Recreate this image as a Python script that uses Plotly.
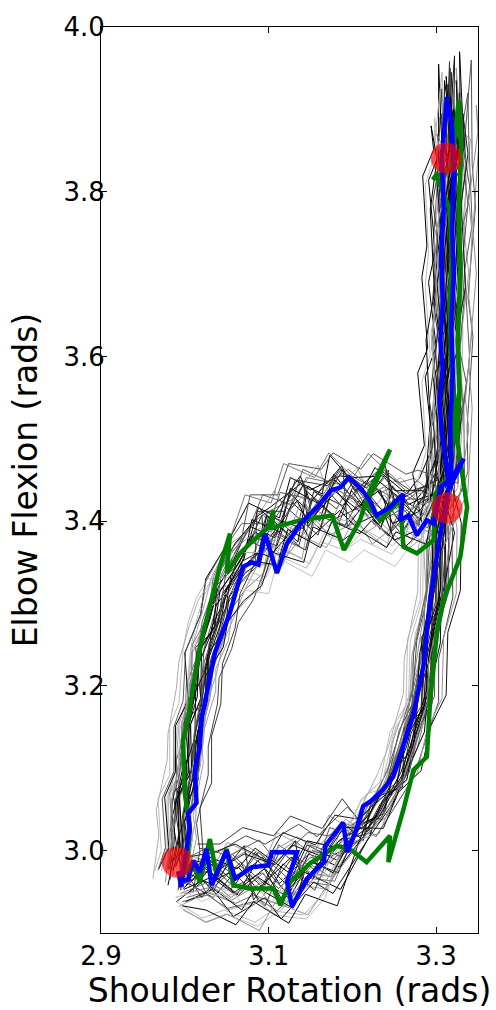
import plotly.graph_objects as go

# Reference loop through joint space (shoulder rotation, elbow flexion), rads.
# Segments: left rise (10), top band (9), column up (9), column down (6),
# right fall (8), bottom band (7)  -> 49 waypoints
PATH_X = [2.992, 2.994, 2.998, 3.003, 3.009, 3.016, 3.024, 3.034, 3.046, 3.062,
          3.082, 3.105, 3.130, 3.155, 3.180, 3.205, 3.230, 3.255, 3.280,
          3.300, 3.306, 3.308, 3.309, 3.310, 3.311, 3.313, 3.315, 3.318,
          3.321, 3.319, 3.317, 3.315, 3.314, 3.312,
          3.305, 3.298, 3.290, 3.280, 3.268, 3.252, 3.232, 3.208,
          3.180, 3.150, 3.120, 3.090, 3.060, 3.030, 3.005]
PATH_Y = [2.970, 3.010, 3.055, 3.100, 3.145, 3.190, 3.235, 3.275, 3.312, 3.345,
          3.372, 3.392, 3.405, 3.418, 3.425, 3.425, 3.420, 3.415, 3.412,
          3.440, 3.500, 3.560, 3.620, 3.680, 3.740, 3.800, 3.860, 3.910,
          3.850, 3.770, 3.690, 3.610, 3.530, 3.450,
          3.380, 3.310, 3.245, 3.185, 3.135, 3.090, 3.052, 3.022,
          2.998, 2.982, 2.972, 2.968, 2.968, 2.968, 2.968]

# Individual trials: deviation from the waypoints, in milliradians
TRIAL_DX = [
    [-10, -7, -9, -6, -8, -5, -7, -4, -6, -3, -5, 3, -4, 6, -2, 4, -6, 5, -3,
     -6, -4, -7, -3, -8, -5, -9, -6, -8, 2, 4, 1, 5, 2, 3,
     4, 6, 3, 7, 5, 8, 4, 6, 5, -2, 4, -3, 2, -5, -7],
    [6, 9, 5, 8, 6, 10, 7, 9, 5, 8, 3, -5, 6, -2, 5, -4, 3, -6, 2,
     5, 8, 4, 9, 6, 10, 7, 8, 5, -4, -2, -5, -1, -3, -2,
     -6, -4, -8, -5, -9, -6, -8, -5, -4, 3, -6, 2, -5, 4, 2],
    [-3, 2, -4, 1, -2, 3, -1, 2, -3, 1, 8, -2, 10, -4, 7, -1, 9, -3, 6,
     -2, 1, -3, 2, -1, 3, -2, 1, -1, 6, 8, 5, 9, 7, 6,
     -2, 1, -3, 2, -4, 1, -3, 2, -7, 5, -8, 6, -4, 7, -3],
    [-15, -12, -14, -11, -13, -10, -12, -14, -16, -18, -12, -4, -10, 0, -8, 2, -6, -2, -9,
     -10, -12, -8, -13, -9, -14, -10, -12, -14, -5, -8, -4, -9, -6, -7,
     -10, -8, -12, -9, -11, -8, -10, -7, -3, 4, -2, 5, -4, 3, -6],
    [4, -2, 5, -1, 3, -3, 4, -2, 5, -1, -3, 5, -2, 7, -4, 6, -1, 8, -2,
     3, 5, 2, 6, 3, 7, 4, 6, 4, -6, -3, -7, -2, -5, -4,
     3, -2, 4, -1, 5, -2, 6, -1, 2, -4, 3, -6, 1, -3, -1],
    [10, 7, 11, 8, 12, 9, 10, 8, 6, 4, 0, -6, 2, -8, 1, -5, 3, -7, 0,
     8, 6, 9, 5, 10, 7, 11, 8, 10, 0, -2, 1, -3, 0, -1,
     7, 9, 6, 10, 7, 9, 6, 8, 8, -3, 9, -2, 7, -4, 5],
    [-6, -9, -5, -10, -7, -11, -8, -6, -9, -7, 4, -8, 5, -10, 3, -6, 4, -9, 2,
     -8, -5, -9, -4, -10, -6, -11, -7, -5, 5, 2, 6, 1, 4, 3,
     -4, -7, -3, -8, -5, -9, -4, -6, -1, -6, 0, -8, 1, -5, -3],
    [-18, -15, -17, -14, -16, -13, -15, -12, -14, -11, -8, 2, -10, 4, -7, 1, -9, 3, -6,
     12, 14, 11, 15, 12, 16, 13, 15, 12, 10, 12, 9, 13, 11, 10,
     -8, -10, -7, -11, -8, -12, -9, -11, -10, -4, -12, -2, -9, -5, -11],
    [2, 5, 1, 6, 3, 7, 2, 5, 3, 6, 9, 1, 11, -1, 8, 2, 10, 0, 7,
     -1, 2, -2, 3, -1, 2, -3, 1, 0, 3, 5, 2, 6, 4, 5,
     1, 4, 0, 5, 2, 6, 1, 4, -5, 2, -7, 3, -6, 1, -4],
    [-12, -10, -13, -9, -11, -8, -10, -7, -9, -6, -2, 6, -4, 8, -1, 5, -3, 7, 0,
     -10, -13, -9, -14, -10, -15, -11, -13, -12, -8, -10, -7, -11, -9, -8,
     -12, -10, -13, -9, -12, -10, -11, -8, -6, 0, -8, 2, -7, -1, -9],
    [8, 12, 7, 13, 9, 14, 10, 12, 8, 10, 12, 4, 14, 2, 11, 5, 13, 3, 10,
     2, -1, 3, -2, 1, -3, 2, -1, 3, -2, 0, -3, 1, -1, -2,
     10, 12, 9, 13, 10, 14, 9, 11, 10, 4, 12, 3, 11, 5, 9],
    [-4, -1, -5, 0, -3, -2, -4, -1, -5, -2, 6, -3, 8, -5, 5, -2, 7, -4, 4,
     6, 4, 7, 3, 8, 5, 9, 6, 8, 1, 3, 0, 4, 2, 1,
     -3, 0, -4, 1, -3, 2, -4, 0, 3, -1, 5, -3, 4, -2, 1],
    [14, 11, 15, 12, 13, 10, 14, 11, 12, 9, 5, 12, 3, 14, 6, 10, 4, 13, 5,
     -5, -8, -4, -9, -6, -10, -7, -9, -8, 7, 9, 6, 10, 8, 7,
     12, 14, 11, 15, 12, 13, 10, 12, 12, 6, 14, 5, 13, 7, 11],
    [0, 3, -1, 4, 1, 5, 0, 3, 1, 4, -7, 2, -9, 4, -6, 1, -8, 3, -5,
     0, -3, 1, -4, 0, -2, 1, -3, -2, -4, -6, -3, -7, -5, -4,
     2, -1, 3, 0, 2, -1, 3, 1, -2, 5, -3, 6, -1, 4, 0],
    [-9, -12, -8, -13, -10, -14, -11, -13, -10, -12, -5, -12, -3, -14, -6, -10, -4, -13, -5,
     4, 7, 3, 8, 5, 9, 6, 8, 7, -6, -4, -7, -3, -5, -6,
     -5, -8, -4, -9, -6, -10, -5, -7, -8, -2, -10, 0, -9, -3, -8],
    [-20, -17, -19, -16, -18, -15, -17, -20, -22, -24, -18, -8, -16, -6, -14, -9, -15, -7, -12,
     15, 17, 14, 18, 15, 19, 16, 18, 16, 14, 16, 13, 17, 15, 14,
     -14, -11, -15, -12, -16, -13, -15, -12, -14, -8, -16, -6, -13, -9, -15],
    [-23, -13, -22, -14, -20, -12, -24, -15, -21, -13, -6, 8, -4, 9, -7, 6, -3, 10, -5,
     -20, -10, -21, -9, -19, -12, -22, -8, -15, -18, -11, -20, -10, -17, -12,
     17, 8, 15, 9, 18, 7, 16, 10, 6, -7, 9, -5, 8, -8, -15],
    [10, 20, 12, 19, 11, 21, 13, 18, 10, 17, 8, -5, 10, -7, 9, -4, 11, -6, 7,
     14, 23, 12, 22, 15, 24, 13, 21, 16, 20, 13, 22, 12, 19, 14,
     -20, -10, -19, -11, -21, -9, -18, -12, -8, 5, -10, 6, -9, 4, -5],
    [-10, 2, -12, 3, -9, 4, -11, 1, -8, 3, 10, -10, 12, -8, 9, -11, 13, -9, 8,
     -8, 7, -9, 8, -7, 9, -10, 6, -4, 8, -6, 9, -7, 7, -5,
     -7, 6, -8, 7, -6, 8, -9, 5, 10, -9, 12, -8, 11, -10, -6],
    [-28, -22, -30, -21, -27, -23, -26, -30, -32, -35, -25, -12, -22, -10, -18, -14, -20, -8, -16,
     -22, -18, -25, -16, -23, -20, -26, -17, -20, -15, -19, -14, -20, -16, -18,
     -22, -17, -24, -16, -23, -19, -21, -18, -12, -5, -14, -3, -11, -6, -13],
    [2, 8, 0, 9, 3, 10, 1, 8, 4, 9, -2, 9, -4, 11, -1, 8, -3, 12, 0,
     4, 12, 3, 13, 5, 11, 2, 14, 10, 12, 5, 13, 4, 11, 6,
     2, 9, 1, 10, 3, 8, 0, 9, 4, -4, 6, -6, 3, -2, 0],
    [18, 24, 16, 25, 19, 23, 17, 22, 18, 20, 12, 2, 14, 0, 11, 3, 13, -1, 10,
     8, 16, 7, 17, 9, 15, 6, 18, 12, 15, 9, 16, 8, 14, 10,
     14, 22, 13, 23, 15, 21, 12, 20, 14, 8, 16, 6, 13, 9, 12],
    [-14, -8, -16, -7, -13, -9, -15, -6, -12, -10, -10, -2, -12, 0, -8, -4, -11, 1, -6,
     -4, -12, -3, -13, -5, -11, -2, -14, -8, -3, -10, -2, -11, -4, -9,
     -5, -12, -4, -13, -6, -11, -3, -10, -6, 2, -8, 4, -5, 1, -10],
    [5, 12, 4, 13, 6, 11, 3, 14, 7, 10, 3, -7, 5, -9, 2, -6, 4, -8, 1,
     -10, -2, -11, 0, -9, -3, -12, 1, -6, -2, -8, -1, -9, -3, -7,
     6, 14, 5, 15, 7, 13, 4, 12, -3, 4, -5, 6, -2, 3, -4],
    [-24, -17, -25, -16, -22, -18, -23, -15, -21, -17, -14, -4, -16, -2, -12, -5, -15, -1, -10,
     22, 16, 24, 15, 21, 17, 25, 14, 20, 18, 24, 17, 25, 19, 22,
     -16, -9, -17, -8, -15, -10, -14, -7, -9, -3, -11, -1, -8, -4, -12],
    [-3, 4, -5, 5, -2, 3, -4, 6, -1, 3, 6, -4, 8, -6, 5, -3, 7, -5, 4,
     -28, -20, -30, -19, -27, -22, -29, -18, -24, -20, -26, -19, -27, -21, -24,
     0, 7, -1, 8, 1, 6, -2, 5, 5, -1, 7, -3, 4, 0, -2],
    [10, 15, 9, 16, 11, 14, 8, 17, 12, 15, 9, 15, 7, 17, 10, 14, 8, 16, 11,
     2, 9, 1, 10, 3, 8, 0, 11, 6, 10, 3, 11, 2, 9, 4,
     20, 26, 19, 27, 21, 25, 18, 24, 12, 18, 10, 20, 13, 17, 9],
    [-12, -4, -13, -3, -11, -5, -10, -2, -9, -6, -5, 5, -7, 7, -4, 4, -6, 6, -3,
     0, 6, -1, 7, 1, 5, -2, 8, 3, 5, -1, 6, -2, 4, 0,
     -5, 2, -6, 3, -4, 1, -7, 0, 2, -6, 4, -8, 1, -5, -8],
    [22, 28, 20, 29, 23, 27, 21, 26, 20, 22, 4, 14, 2, 16, 5, 12, 3, 15, 6,
     -15, -8, -16, -7, -14, -9, -17, -6, -12, -8, -15, -7, -16, -9, -13,
     5, 12, 4, 13, 6, 11, 3, 10, 8, 14, 6, 16, 9, 12, 10],
    [-16, -12, -18, -11, -15, -13, -17, -12, -14, -10, -15, -5, -18, -3, -12, -8, -16, -4, -10,
     8, 13, 7, 14, 9, 12, 6, 15, 11, 14, 8, 15, 7, 13, 9,
     -20, -14, -21, -13, -19, -15, -22, -16, -6, -12, -4, -14, -7, -10, -8],
    [1, 6, 0, 7, 2, 5, -1, 8, 3, 6, -4, 6, -6, 8, -3, 5, -5, 9, -2,
     26, 20, 28, 19, 25, 22, 27, 18, 24, 22, 28, 21, 29, 23, 26,
     10, 17, 9, 18, 11, 16, 8, 15, 6, 0, 8, -2, 5, 1, 2],
    [-6, 0, -7, 1, -5, -1, -8, 2, -4, 0, 2, -6, 4, -8, 1, -5, 3, -7, 0,
     -5, 2, -6, 3, -4, 1, -7, 4, -1, 2, -5, 3, -6, 1, -4,
     -9, -3, -10, -2, -8, -4, -11, -1, -3, 3, -5, 5, -2, 2, -6],
    [7, 13, 6, 14, 8, 12, 5, 15, 9, 13, 6, -3, 8, -5, 7, -2, 9, -4, 5,
     10, 17, 9, 18, 11, 16, 8, 19, 14, 17, 11, 18, 10, 16, 12,
     -5, 2, -6, 3, -4, 1, -7, 0, -1, 6, -3, 8, 0, 5, 3],
    [-30, -25, -32, -24, -29, -26, -31, -28, -30, -27, -20, -10, -22, -8, -18, -12, -21, -9, -15,
     -8, -14, -7, -15, -9, -13, -6, -16, -11, -12, -7, -13, -6, -11, -8,
     -26, -20, -28, -19, -25, -22, -27, -21, -15, -8, -17, -6, -14, -9, -16],
    [3, 10, 2, 11, 4, 9, 1, 12, 5, 8, 10, 0, 12, -2, 9, 1, 11, -3, 8,
     3, 10, 2, 11, 4, 9, 1, 12, 6, 9, 3, 10, 2, 8, 4,
     25, 31, 24, 32, 26, 30, 23, 29, 10, 16, 8, 18, 11, 15, 6],
    [-13, -7, -14, -6, -12, -8, -15, -5, -11, -9, 8, -2, 10, -4, 7, -1, 9, -5, 6,
     28, 33, 27, 34, 29, 32, 26, 35, 30, 30, 25, 31, 24, 29, 26,
     2, 9, 1, 10, 3, 8, 0, 7, -10, -3, -12, -1, -9, -4, -7],
]
TRIAL_DY = [
    [8, -4, 6, -3, 5, -2, 4, 6, 8, 10, 22, -12, 28, -18, 32, -8, 25, -20, 15,
     8, -10, 12, -6, 9, -11, 7, -5, 25, -12, 8, -14, 6, -9, 4,
     3, -5, 4, -6, 5, -3, 6, -4, -18, 14, -26, 20, -22, 10, -14],
    [-6, 4, -5, 3, -4, 5, -3, -8, -12, -15, -28, 14, -35, 10, -25, 18, -30, 12, -20,
     -5, 9, -7, 11, -4, 8, -10, 6, -35, 10, -6, 12, -8, 7, -5,
     -4, 5, -6, 4, -5, 6, -3, 5, 22, -16, 28, -12, 25, -18, 12],
    [12, -8, 10, -6, 8, -5, 10, 14, 18, 22, 40, 5, 45, -5, 38, 10, 42, 0, 30,
     14, -5, 16, -8, 12, -6, 15, -9, 40, -15, 10, -12, 8, -10, 6,
     8, -8, 6, -10, 9, -7, 10, -6, 30, -5, 35, -10, 28, 0, 20],
    [-8, 5, -6, 4, -7, 6, -10, -15, -20, -25, -45, -20, -50, -15, -42, -25, -48, -18, -35,
     -8, 12, -10, 14, -6, 10, -12, 8, -20, 6, -10, 8, -12, 5, -8,
     -6, 8, -5, 9, -7, 6, -8, 7, -30, -10, -35, -5, -28, -12, -20],
    [-12, 6, -10, 5, -8, 4, -9, -4, 0, 4, 10, -22, 18, -28, 14, -15, 20, -25, 8,
     -4, 15, -6, 18, -3, 14, -8, 12, 55, 8, -12, 10, -14, 8, -10,
     -9, 7, -8, 6, -10, 8, -7, 9, -10, 25, -15, 30, -8, 22, -5],
    [4, -6, 3, -8, 2, -6, 0, -4, -6, -8, -15, 20, -22, 25, -10, 22, -18, 28, -12,
     12, -6, 14, -9, 10, -5, 13, -7, 10, -20, 14, -18, 12, -16, 10,
     5, -4, 7, -3, 6, -5, 8, -2, 15, -25, 20, -30, 18, -20, 10],
    [0, 10, -2, 8, -1, 9, 2, 5, 8, 15, 30, 18, 25, 35, 20, 30, 15, 25, 10,
     -10, 6, -12, 8, -9, 5, -11, 4, -50, 12, -4, 14, -6, 10, -3,
     10, -6, 12, -4, 9, -8, 11, -5, -35, -15, -40, -22, -32, -18, -25],
    [10, -5, 12, -3, 8, -6, 14, 18, 20, 25, 15, 45, 10, 50, 5, 40, 12, 38, 22,
     -6, 10, -8, 12, -4, 9, -7, 11, -30, -8, 12, -6, 10, -9, 8,
     -3, 6, -5, 8, -4, 7, -6, 5, -45, -25, -50, -30, -40, -20, -35],
    [-3, 7, -5, 6, -4, 8, -2, 2, 4, 6, -8, 12, -14, 18, -6, 14, -10, 16, -5,
     6, -14, 8, -12, 5, -10, 9, -13, 35, -5, 15, -8, 12, -6, 10,
     6, -8, 5, -9, 7, -6, 4, -7, -5, 18, -12, 24, -8, 16, -10],
    [6, -8, 5, -6, 7, -5, 5, 0, -5, -10, -20, -5, -28, 0, -22, -8, -25, 2, -15,
     15, -8, 18, -10, 12, -7, 16, -9, -15, -12, 9, -10, 7, -14, 8,
     12, -7, 10, -8, 11, -6, 9, -9, -12, 10, -18, 5, -15, 8, -10],
    [-10, -4, -12, -2, -9, -5, -14, -18, -22, -28, -35, -10, -40, -5, -30, -12, -38, -8, -25,
     -12, 5, -14, 7, -10, 4, -13, 6, 15, 18, -6, 16, -8, 14, -5,
     -10, 4, -12, 6, -9, 5, -11, 3, 35, 10, 40, 15, 30, 8, 25],
    [18, 10, 15, 12, 14, 8, 16, 20, 25, 28, 35, 25, 40, 20, 30, 28, 35, 22, 25,
     -15, 7, -13, 9, -11, 6, -14, 8, -5, 15, -9, 13, -11, 12, -8,
     -12, 10, -10, 12, -8, 9, -11, 8, -25, 5, -30, 0, -22, 8, -18],
    [-15, -10, -18, -8, -14, -12, -20, -25, -30, -30, -25, -45, -20, -50, -28, -40, -22, -48, -30,
     8, -15, 10, -18, 6, -12, 9, -16, -10, -8, 14, -10, 16, -7, 12,
     9, -3, 11, -5, 8, -4, 10, -2, 40, 20, 45, 25, 38, 15, 30],
    [-18, -10, -15, -12, -16, -8, -12, -10, -8, -5, 5, -30, 12, -35, 8, -28, 10, -30, 0,
     20, -4, 22, -6, 18, -3, 20, -5, 48, -18, 6, -16, 4, -15, 3,
     -14, 9, -12, 10, -13, 8, -12, 10, 8, -30, 12, -35, 5, -25, -8],
    [-5, 12, -8, 10, -6, 12, -4, 4, 10, 14, 20, 40, 15, 45, 22, 38, 18, 42, 15,
     -18, 3, -16, 5, -14, 2, -17, 4, -40, 20, -5, 18, -3, 17, -2,
     14, -10, 12, -12, 15, -9, 13, -11, -40, -20, -45, -28, -38, -22, -30],
    [5, -8, 8, -5, 6, -9, 10, 5, 0, -10, -30, -60, -35, -70, -40, -55, -30, -45, -20,
     10, -18, 12, -20, 8, -15, 11, -19, -60, -20, 18, -22, 20, -19, 16,
     15, -12, 18, -10, 16, -14, 17, -12, -50, -60, -45, -55, -40, -50, -30],
    [8, -6, 10, -4, 7, -8, 5, 12, 18, 25, 50, 12, 48, 15, 55, 10, 45, 18, 35,
     12, -10, 15, -8, 10, -12, 14, -6, 45, -10, 12, -14, 9, -11, 8,
     6, -8, 7, -6, 9, -7, 5, -9, -45, -8, -42, -12, -40, -5, -30],
    [-10, 5, -12, 6, -9, 4, -14, -20, -28, -35, -55, -20, -50, -18, -48, -25, -52, -15, -40,
     -12, 10, -15, 8, -10, 12, -14, 6, -40, 14, -8, 12, -10, 15, -9,
     -8, 6, -9, 7, -6, 8, -7, 5, 45, 15, 50, 20, 42, 12, 30],
    [14, -12, 15, -10, 13, -14, 12, -8, 10, 4, 35, -30, 40, -25, 38, -32, 42, -28, 20,
     20, -18, 22, -15, 19, -20, 18, -16, 20, -20, 18, -22, 16, -19, 15,
     12, -14, 13, -12, 14, -13, 11, -10, 35, -30, 40, -28, 38, -25, 10],
    [5, -10, 8, -8, 6, -11, 10, 2, -5, -15, -40, -65, -45, -75, -50, -60, -42, -55, -30,
     8, -15, 10, -18, 6, -14, 9, -16, -20, -15, 12, -18, 14, -16, 10,
     10, -6, 12, -8, 9, -7, 11, -5, -55, -65, -50, -60, -45, -55, -35],
    [-15, -5, -13, -3, -16, -4, -12, -2, 5, 10, 30, -5, 35, 0, 25, -8, 32, 5, 15,
     -5, 15, -8, 18, -3, 14, -6, 12, 60, 10, -14, 12, -16, 9, -12,
     -12, 4, -10, 6, -13, 3, -11, 5, 5, 30, 0, 35, 10, 25, 5],
    [-20, -10, -22, -8, -18, -12, -25, -30, -35, -40, -35, -5, -40, -10, -30, 0, -38, -8, -20,
     15, -5, 18, -8, 12, -4, 16, -7, 0, -18, 5, -16, 7, -15, 4,
     -14, -2, -12, -4, -15, -1, -10, -5, 55, 35, 60, 40, 50, 30, 35],
    [12, 0, 14, 2, 10, -2, 15, 10, 20, 28, 60, 30, 65, 35, 58, 28, 62, 32, 40,
     -6, 14, -9, 16, -4, 12, -8, 10, -60, 16, -6, 18, -8, 14, -5,
     4, -10, 6, -12, 3, -9, 5, -8, -30, 0, -35, 5, -25, -5, -20],
    [0, -12, 2, -14, -1, -10, 3, -6, -4, -8, -25, 15, -30, 18, -22, 12, -28, 20, -10,
     10, -12, 13, -14, 8, -10, 11, -9, 30, -6, 16, -8, 18, -5, 14,
     8, -5, 10, -7, 7, -4, 9, -6, -50, -20, -55, -25, -48, -15, -30],
    [6, -6, 8, -4, 5, -8, 7, 12, 15, 18, 25, 5, 30, 8, 22, 2, 28, 10, 15,
     -15, 5, -18, 8, -12, 4, -16, 6, 10, 12, -10, 14, -12, 10, -8,
     -4, 9, -6, 11, -3, 8, -5, 10, 20, 40, 15, 45, 25, 35, 18],
    [10, -5, 12, -3, 9, -6, 11, 4, 0, -5, -10, -35, -5, -40, -12, -30, -8, -38, -20,
     18, -8, 20, -10, 16, -6, 19, -9, -30, -10, 8, -12, 10, -9, 6,
     -9, 6, -11, 8, -8, 5, -10, 7, 15, -10, 20, -15, 12, -8, 5],
    [-8, 4, -10, 6, -7, 3, -9, -2, 2, 5, 10, -20, 15, -25, 8, -18, 12, -22, 5,
     5, -16, 8, -18, 4, -14, 7, -15, 40, 8, -14, 10, -16, 7, -12,
     12, 2, 14, 0, 11, 3, 13, -1, 10, -20, 15, -25, 8, -15, -5],
    [-12, -2, -14, 0, -11, -3, -15, -10, -15, -20, -20, -45, -15, -50, -25, -40, -18, -48, -30,
     -10, 8, -12, 10, -8, 6, -11, 9, -10, 6, -12, 8, -14, 5, -10,
     2, -12, 4, -14, 1, -10, 3, -11, -65, -35, -60, -30, -58, -40, -35],
    [-5, -15, -3, -18, -6, -12, -8, -5, 0, 5, 40, 20, 45, 25, 38, 15, 42, 22, 30,
     -12, 6, -14, 8, -10, 5, -13, 7, 15, 18, -4, 20, -6, 16, -3,
     -10, 0, -12, 2, -9, -1, -11, 1, 65, 45, 70, 50, 60, 40, 40],
    [3, -9, 5, -7, 2, -10, 6, -5, -15, -30, -55, -80, -50, -85, -60, -75, -55, -70, -40,
     10, -12, 12, -14, 8, -10, 11, -13, -45, -14, 10, -16, 12, -13, 8,
     7, -3, 9, -5, 6, -2, 8, -4, -10, -35, -5, -40, -15, -30, -15],
    [-6, 6, -8, 8, -5, 5, -7, 15, 25, 35, 60, 40, 65, 45, 58, 38, 62, 42, 50,
     6, -10, 8, -12, 5, -9, 7, -11, 50, -16, 12, -18, 14, -15, 10,
     14, 4, 16, 2, 13, 5, 15, 3, -5, 25, -10, 30, 0, 20, 5],
    [6, -4, 8, -6, 5, -3, 7, -2, 3, 0, 15, -15, 20, -20, 12, -12, 18, -18, 0,
     -8, 10, -10, 12, -6, 9, -9, 11, 5, 10, -8, 12, -10, 9, -7,
     -6, 7, -8, 9, -5, 6, -7, 8, -25, 5, -30, 10, -20, 0, -15],
    [15, 5, 18, 3, 14, 6, 16, 20, 22, 24, 45, 10, 50, 5, 42, 12, 48, 8, 30,
     14, -4, 16, -6, 12, -3, 15, -5, -15, -4, 15, -6, 17, -3, 13,
     5, 15, 3, 17, 6, 14, 4, 16, 45, 25, 50, 20, 40, 30, 25],
    [-4, 8, -6, 10, -3, 7, -5, 0, -8, -12, -10, -30, -5, -35, -15, -25, -8, -32, -20,
     -14, 6, -16, 8, -12, 5, -15, 7, 35, 12, -10, 14, -12, 11, -8,
     -10, 4, -12, 6, -9, 3, -11, 5, -30, -5, -35, -10, -25, -15, -25],
    [-18, -8, -20, -6, -16, -10, -22, -28, -35, -42, -50, -30, -55, -25, -48, -35, -52, -28, -40,
     4, -16, 6, -18, 3, -14, 5, -15, 25, -12, 6, -14, 8, -11, 5,
     18, 6, 20, 4, 17, 7, 19, 5, 30, 10, 35, 15, 28, 12, 20],
    [8, 18, 6, 20, 9, 16, 5, 12, 14, 16, 20, -5, 25, -10, 18, 0, 22, -8, 10,
     -10, 12, -12, 14, -8, 10, -11, 13, -5, 8, -16, 10, -18, 7, -14,
     -16, -6, -18, -4, -15, -7, -17, -5, -40, -60, -35, -65, -45, -55, -40],
]
TRIAL_GRAY = ["#000000", "#2e2e2e", "#555555", "#8a8a8a", "#141414", "#3d3d3d",
              "#6e6e6e", "#a8a8a8", "#1f1f1f", "#4a4a4a", "#7a7a7a", "#000000",
              "#9a9a9a", "#333333", "#616161", "#b8b8b8",
              "#000000", "#a0a0a0", "#262626", "#bdbdbd", "#000000", "#474747",
              "#787878", "#0a0a0a", "#5c5c5c", "#000000", "#969696", "#000000",
              "#383838", "#c2c2c2", "#545454", "#000000", "#1c1c1c", "#adadad",
              "#0f0f0f", "#8f8f8f"]

# Mean trajectory
BLUE_X = [2.992, 2.996, 3.000, 3.006, 3.004, 3.014, 3.012, 3.018, 3.020, 3.028,
          3.036, 3.044, 3.054, 3.062, 3.070, 3.080, 3.088, 3.096, 3.110, 3.122,
          3.138, 3.158, 3.174, 3.186, 3.196, 3.210, 3.221, 3.229, 3.245, 3.261,
          3.257, 3.267, 3.277, 3.289, 3.297, 3.305, 3.319, 3.333, 3.316, 3.307,
          3.304, 3.308, 3.305, 3.308, 3.306, 3.309, 3.307, 3.310, 3.313, 3.319,
          3.321, 3.319, 3.321, 3.318, 3.320, 3.317, 3.318, 3.312, 3.305, 3.293,
          3.285, 3.273, 3.261, 3.249, 3.237, 3.222, 3.213, 3.205, 3.194, 3.189,
          3.168, 3.166, 3.146, 3.128, 3.122, 3.134, 3.104, 3.100, 3.080, 3.060,
          3.050, 3.032, 3.026, 3.018, 3.010, 3.004, 2.996]
BLUE_Y = [2.975, 2.956, 2.990, 3.026, 3.045, 3.058, 3.098, 3.126, 3.160, 3.200,
          3.240, 3.262, 3.289, 3.318, 3.345, 3.350, 3.347, 3.385, 3.337, 3.373,
          3.397, 3.417, 3.437, 3.441, 3.453, 3.440, 3.425, 3.407, 3.417, 3.433,
          3.401, 3.407, 3.383, 3.401, 3.397, 3.441, 3.453, 3.476, 3.440, 3.505,
          3.544, 3.584, 3.620, 3.664, 3.720, 3.780, 3.840, 3.880, 3.915, 3.880,
          3.820, 3.760, 3.700, 3.640, 3.580, 3.520, 3.460, 3.420, 3.385, 3.305,
          3.225, 3.165, 3.126, 3.090, 3.074, 3.060, 3.054, 3.026, 2.998, 3.034,
          3.006, 2.986, 2.966, 2.932, 2.962, 2.998, 2.998, 2.982, 2.980, 2.966,
          3.000, 2.958, 3.002, 2.974, 2.988, 2.965, 2.962]

# Single highlighted trial
GREEN_X = [3.000, 3.004, 3.006, 3.000, 2.998, 3.004, 3.010, 3.016, 3.022, 3.032,
           3.042, 3.054, 3.050, 3.066, 3.078, 3.100, 3.106, 3.104, 3.138, 3.176,
           3.190, 3.209, 3.221, 3.245, 3.217, 3.233, 3.257, 3.261, 3.277, 3.297,
           3.299, 3.317, 3.322, 3.318, 3.316, 3.319, 3.316, 3.300, 3.296, 3.318,
           3.327, 3.330, 3.327, 3.329, 3.326, 3.328, 3.325, 3.337, 3.329, 3.309,
           3.301, 3.293, 3.289, 3.273, 3.261, 3.243, 3.245, 3.217, 3.200, 3.182,
           3.150, 3.126, 3.114, 3.106, 3.078, 3.058, 3.050, 3.038, 3.030, 3.018,
           3.010, 3.000]
GREEN_Y = [2.972, 3.000, 3.026, 3.070, 3.134, 3.160, 3.200, 3.230, 3.265, 3.305,
           3.345, 3.385, 3.337, 3.361, 3.373, 3.393, 3.413, 3.392, 3.401, 3.407,
           3.365, 3.401, 3.437, 3.487, 3.421, 3.401, 3.425, 3.369, 3.361, 3.377,
           3.433, 3.457, 3.544, 3.600, 3.660, 3.720, 3.780, 3.820, 3.815, 3.830,
           3.911, 3.850, 3.780, 3.700, 3.620, 3.560, 3.500, 3.417, 3.357, 3.305,
           3.265, 3.185, 3.114, 3.098, 3.050, 2.986, 3.018, 2.986, 3.000, 3.006,
           2.985, 2.962, 2.934, 2.954, 2.954, 2.958, 3.002, 2.970, 3.014, 2.962,
           2.985, 2.972]

# Key postures
KEY_X = [2.991, 3.313, 3.312]
KEY_Y = [2.986, 3.416, 3.841]

fig = go.Figure()

for dx, dy, gray in zip(TRIAL_DX, TRIAL_DY, TRIAL_GRAY):
    xs = [px + d / 1000 for px, d in zip(PATH_X, dx)]
    ys = [py + d / 1000 for py, d in zip(PATH_Y, dy)]
    fig.add_trace(go.Scatter(x=xs, y=ys, mode="lines",
                             line=dict(color=gray, width=1),
                             hoverinfo="skip"))

fig.add_trace(go.Scatter(x=GREEN_X, y=GREEN_Y, mode="lines",
                         line=dict(color="#008000", width=4.5)))
fig.add_trace(go.Scatter(x=BLUE_X, y=BLUE_Y, mode="lines",
                         line=dict(color="#0000ff", width=4.5)))
fig.add_trace(go.Scatter(x=KEY_X, y=KEY_Y, mode="markers",
                         marker=dict(color="rgba(255,0,0,0.65)", size=31,
                                     line=dict(width=0))))

axis_common = dict(
    ticks="inside", ticklen=6, tickwidth=1, tickcolor="black",
    showline=True, linecolor="black", linewidth=1, mirror="ticks",
    showgrid=False, zeroline=False,
    tickfont=dict(family="DejaVu Sans", size=26, color="black"),
)

fig.update_layout(
    width=496, height=1010,
    margin=dict(l=101, r=18, t=19, b=71),
    plot_bgcolor="white", paper_bgcolor="white",
    showlegend=False,
    font=dict(family="DejaVu Sans", color="black"),
    xaxis=dict(range=[2.9, 3.35], tickvals=[2.9, 3.1, 3.3],
               ticktext=["2.9", "3.1", "3.3"],
               title=dict(text="Shoulder Rotation (rads)",
                          font=dict(family="DejaVu Sans", size=33), standoff=4),
               **axis_common),
    yaxis=dict(range=[2.9, 4.0], tickvals=[3.0, 3.2, 3.4, 3.6, 3.8, 4.0],
               ticktext=["3.0", "3.2", "3.4", "3.6", "3.8", "4.0"],
               ticklabelstandoff=-10,
               title=dict(text="Elbow Flexion (rads)",
                          font=dict(family="DejaVu Sans", size=33), standoff=15),
               **axis_common),
)

fig.write_html("out.html")
